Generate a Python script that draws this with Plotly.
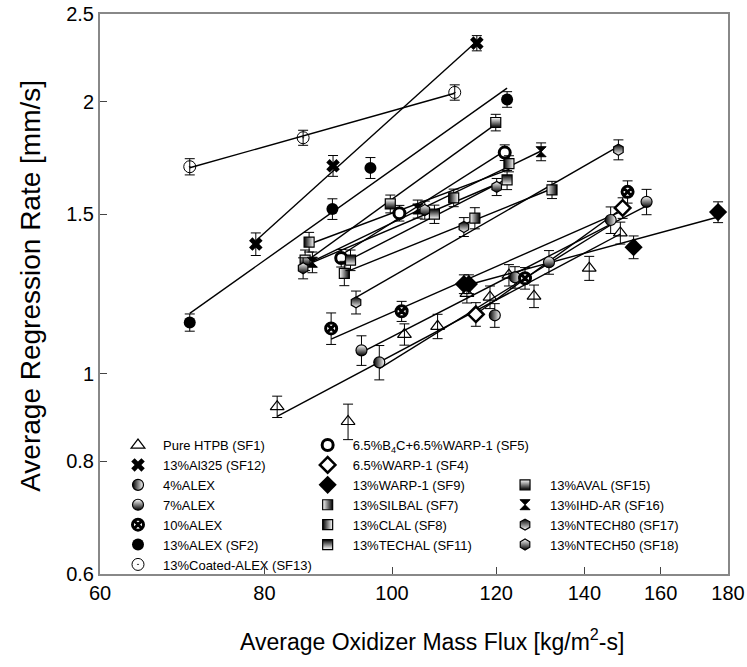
import numpy as np
import plotly.graph_objects as go

# ---------------- data ----------------
sf1_x = [81.8, 92.6, 102.2, 108.3, 114.0, 118.7, 122.7, 128.2, 141.2, 149.1]
sf1_y = [0.919, 0.885, 1.105, 1.128, 1.227, 1.215, 1.285, 1.218, 1.308, 1.431]
sf1_e = [0.025, 0.040, 0.030, 0.035, 0.030, 0.035, 0.035, 0.035, 0.040, 0.040]

sf12_x = [78.8, 90.2, 116.0]
sf12_y = [1.391, 1.698, 2.321]
sf12_e = [0.040, 0.045, 0.045]

alex4_x = [97.8, 119.7, 124.0, 146.6]
alex4_y = [1.029, 1.160, 1.278, 1.479]
alex4_e = [0.045, 0.035, 0.035, 0.050]

alex7_x = [94.8, 131.6, 156.1]
alex7_y = [1.061, 1.328, 1.549]
alex7_e = [0.040, 0.040, 0.050]

alex10_x = [89.9, 101.7, 126.2, 151.0]
alex10_y = [1.122, 1.172, 1.275, 1.589]
alex10_e = [0.045, 0.030, 0.035, 0.045]

sf2_x = [70.2, 90.1, 96.3, 122.3]
sf2_y = [1.139, 1.521, 1.689, 2.011]
sf2_e = [0.025, 0.040, 0.045, 0.040]

sf13_x = [70.2, 85.6, 111.6]
sf13_y = [1.694, 1.824, 2.047]
sf13_e = [0.035, 0.035, 0.040]

sf5_x = [91.5, 101.3, 121.8]
sf5_y = [1.342, 1.505, 1.756]
sf5_e = [0.030, 0.030, 0.035]

sf4_x = [115.8, 149.7]
sf4_y = [1.163, 1.525]
sf4_e = [0.035, 0.040]

sf9_x = [113.4, 114.4, 152.6, 176.9]
sf9_y = [1.256, 1.256, 1.380, 1.509]
sf9_e = [0.030, 0.030, 0.040, 0.040]

sf7_x = [92.0, 115.6, 132.3]
sf7_y = [1.291, 1.486, 1.597]
sf7_e = [0.040, 0.040, 0.035]

sf8_x = [86.5, 111.4, 122.7]
sf8_y = [1.398, 1.565, 1.707]
sf8_e = [0.035, 0.035, 0.035]

sf11_x = [93.0, 107.7, 122.3]
sf11_y = [1.335, 1.501, 1.638]
sf11_e = [0.035, 0.035, 0.040]

sf15_x = [85.9, 99.7, 119.9]
sf15_y = [1.335, 1.541, 1.896]
sf15_e = [0.035, 0.035, 0.040]

sf16_x = [87.0, 104.6, 129.8]
sf16_y = [1.328, 1.521, 1.760]
sf16_e = [0.035, 0.035, 0.040]

sf17_x = [93.9, 113.4, 148.6]
sf17_y = [1.199, 1.453, 1.769]
sf17_e = [0.035, 0.035, 0.045]

sf18_x = [85.6, 105.9, 120.1]
sf18_y = [1.308, 1.517, 1.609]
sf18_e = [0.035, 0.035, 0.035]

x_ticks = [60, 80, 100, 120, 140, 160, 180]
y_ticks = [0.6, 0.8, 1, 1.5, 2, 2.5]

x_title = "Average Oxidizer Mass Flux [kg/m<sup>2</sup>-s]"
y_title = "Average Regression Rate [mm/s]"

# ---------------- styles ----------------
BLK = "black"
WHT = "white"


def mk(symbol, color, lw=1.2, lc=BLK, size=11, grad=None, gcol=None):
    d = dict(symbol=symbol, color=color, size=size, line=dict(color=lc, width=lw))
    if grad:
        d["gradient"] = dict(type=grad, color=gcol)
    return d


series = [
    ("Pure HTPB (SF1)", sf1_x, sf1_y, sf1_e, "legend", mk("triangle-up-open", BLK, lw=1.2, size=12)),
    ("13%Al325 (SF12)", sf12_x, sf12_y, sf12_e, "legend", mk("x", BLK, lw=0, size=12)),
    ("4%ALEX", alex4_x, alex4_y, alex4_e, "legend", mk("circle", BLK, grad="horizontal", gcol=WHT)),
    ("7%ALEX", alex7_x, alex7_y, alex7_e, "legend", mk("circle", WHT, grad="vertical", gcol=BLK)),
    ("10%ALEX", alex10_x, alex10_y, alex10_e, "legend", mk("circle-x", WHT, lw=3)),
    ("13%ALEX (SF2)", sf2_x, sf2_y, sf2_e, "legend", mk("circle", BLK, lw=0, size=12)),
    ("13%Coated-ALEX (SF13)", sf13_x, sf13_y, sf13_e, "legend", mk("circle-open-dot", BLK, lw=1, size=12)),
    ("6.5%B<sub>4</sub>C+6.5%WARP-1 (SF5)", sf5_x, sf5_y, sf5_e, "legend2", mk("circle", WHT, lw=3, size=11)),
    ("6.5%WARP-1 (SF4)", sf4_x, sf4_y, sf4_e, "legend2", mk("diamond", WHT, lw=2.5, size=12)),
    ("13%WARP-1 (SF9)", sf9_x, sf9_y, sf9_e, "legend2", mk("diamond", BLK, lw=0, size=14)),
    ("13%SILBAL (SF7)", sf7_x, sf7_y, sf7_e, "legend2", mk("square", WHT, grad="horizontal", gcol=BLK, size=10)),
    ("13%CLAL (SF8)", sf8_x, sf8_y, sf8_e, "legend2", mk("square", BLK, grad="horizontal", gcol=WHT, size=10)),
    ("13%TECHAL (SF11)", sf11_x, sf11_y, sf11_e, "legend2", mk("square", BLK, grad="vertical", gcol=WHT, size=10)),
    ("13%AVAL (SF15)", sf15_x, sf15_y, sf15_e, "legend3", mk("square", WHT, grad="vertical", gcol=BLK, size=10)),
    ("13%IHD-AR (SF16)", sf16_x, sf16_y, sf16_e, "legend3", mk("hourglass", BLK, lw=1, size=10)),
    ("13%NTECH80 (SF17)", sf17_x, sf17_y, sf17_e, "legend3", mk("hexagon", BLK, grad="vertical", gcol=WHT)),
    ("13%NTECH50 (SF18)", sf18_x, sf18_y, sf18_e, "legend3", mk("hexagon", WHT, grad="vertical", gcol=BLK)),
]

fig = go.Figure()

# power-law fit lines (least squares in log-log space), drawn over each data span
for name, xs, ys, es, lg, m in series:
    lx, ly = np.log10(xs), np.log10(ys)
    b, a = np.polyfit(lx, ly, 1)
    xr = np.array([min(xs), max(xs)])
    yr = 10 ** (a + b * np.log10(xr))
    fig.add_trace(go.Scatter(x=xr, y=yr, mode="lines", line=dict(color=BLK, width=1.4),
                             showlegend=False, hoverinfo="skip"))

for name, xs, ys, es, lg, m in series:
    fig.add_trace(go.Scatter(
        x=xs, y=ys, mode="markers", name=name, legend=lg, marker=m,
        error_y=dict(type="data", array=es, visible=True, color=BLK, thickness=1, width=5),
    ))

FONT = "Liberation Sans, Arial, sans-serif"
leg_common = dict(font=dict(family=FONT, size=13, color=BLK), bgcolor="rgba(0,0,0,0)",
                  borderwidth=0, tracegroupgap=0, itemsizing="trace", yanchor="top", xanchor="left",
                  itemwidth=40)

axis_common = dict(type="log", automargin=False, ticks="inside", ticklen=7, tickcolor="#444",
                   showline=True, linecolor="#888", linewidth=2, mirror=True, showgrid=False,
                   zeroline=False, tickfont=dict(size=20, family=FONT), ticklabeloverflow="allow")

fig.update_layout(
    width=747, height=667,
    margin=dict(l=100, r=19, t=14, b=93),
    plot_bgcolor="white", paper_bgcolor="white",
    font=dict(family=FONT, color=BLK),
    legend=dict(x=0.0207, y=0.257, **leg_common),
    legend2=dict(x=0.3227, y=0.257, **leg_common),
    legend3=dict(x=0.637, y=0.186, **leg_common),
    xaxis=dict(range=[np.log10(60), np.log10(180)], tickvals=x_ticks,
               ticktext=[str(v) for v in x_ticks], **axis_common),
    yaxis=dict(range=[np.log10(0.6), np.log10(2.5)], tickvals=y_ticks,
               ticktext=[str(v) for v in y_ticks], **axis_common),
    annotations=[
        dict(text=x_title, xref="paper", yref="paper", x=0.529, y=-0.118, xanchor="center",
             yanchor="middle", showarrow=False, font=dict(size=23, family=FONT, color=BLK)),
        dict(text=y_title, xref="paper", yref="paper", x=-0.112, y=0.514, xanchor="center",
             yanchor="middle", textangle=-90, showarrow=False, font=dict(size=28, family=FONT, color=BLK)),
    ],
)

fig.write_html("out.html")
